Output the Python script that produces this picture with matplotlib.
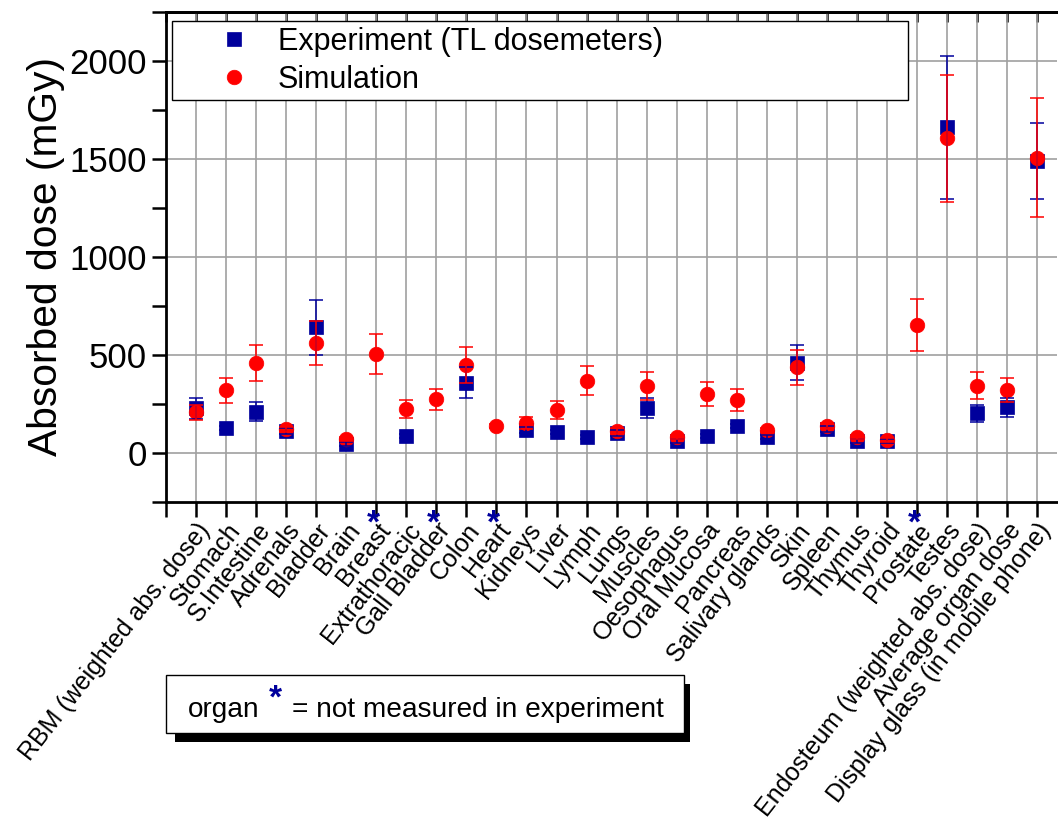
import numpy as np
import matplotlib
matplotlib.use("Agg")
import matplotlib.pyplot as plt
from matplotlib.patches import Rectangle

plt.rcParams['font.family'] = ['Liberation Sans', 'DejaVu Sans']

categories = ["RBM (weighted abs. dose)", "Stomach", "S.Intestine", "Adrenals", "Bladder",
              "Brain", "Breast", "Extrathoracic", "Gall Bladder", "Colon", "Heart",
              "Kidneys", "Liver", "Lymph", "Lungs", "Muscles", "Oesophagus",
              "Oral Mucosa", "Pancreas", "Salivary glands", "Skin", "Spleen", "Thymus",
              "Thyroid", "Prostate", "Testes", "Endosteum (weighted abs. dose)",
              "Average organ dose", "Display glass (in mobile phone)"]
not_measured = ["Breast", "Gall Bladder", "Heart", "Prostate"]

exp_vals = [228, 129, 211, 112, 641, 44, np.nan, 87, np.nan, 359, np.nan, 117, 109, 80,
            104, 231, 63, 87, 138, 83, 460, 121, 63, 63, np.nan, 1661, 202, 233, 1491]
exp_err = [55, 10, 47, 15, 140, 10, np.nan, 10, np.nan, 79, np.nan, 15, 10, 10,
           15, 50, 10, 10, 10, 10, 90, 15, 10, 10, np.nan, 367, 42, 48, 195]
sim_vals = [208, 321, 458, 121, 560, 71, 505, 223, 274, 449, 138, 155, 219, 369,
            112, 342, 83, 301, 270, 117, 437, 138, 83, 65, 653, 1605, 344, 321, 1507]
sim_err = [38, 64, 92, 12, 112, 10, 101, 45, 55, 90, 10, 31, 44, 74,
           15, 70, 10, 62, 55, 12, 88, 14, 10, 10, 132, 322, 69, 63, 303]

blue = '#00009c'
red = '#ff0000'

W, H = 1058, 821
fig = plt.figure(figsize=(W / 100, H / 100), dpi=100)
ax = fig.add_axes([166 / W, 1 - 502 / H, (1057 - 166) / W, (502 - 12) / H])

x = np.arange(len(categories))

ax.plot(x, exp_vals, 's', color=blue, ms=10, mew=0.5, zorder=3,
        label='Experiment (TL dosemeters)')
ax.plot(x, sim_vals, 'o', color=red, ms=10.5, mew=0.5, zorder=4, label='Simulation')
ax.errorbar(x, exp_vals, yerr=exp_err, fmt='none', ecolor=blue, elinewidth=1.1,
            capsize=4.7, capthick=1.1, zorder=5)
ax.errorbar(x, sim_vals, yerr=sim_err, fmt='none', ecolor=red, elinewidth=1.1,
            capsize=4.7, capthick=1.1, zorder=5)

ax.set_xlim(-1, 28.66)
ax.set_ylim(-250, 2250)
ax.set_yticks([0, 500, 1000, 1500, 2000])
ax.set_yticks([-250, 250, 750, 1250, 1750, 2250], minor=True)
ax.set_xticks(np.arange(-1, len(categories)))
ax.set_xticklabels([''] + categories, rotation=52, ha='right', va='top',
                   rotation_mode='anchor', fontsize=18)
ax.tick_params(axis='y', which='both', direction='out', length=10, width=1.8,
               labelsize=25, pad=4)
ax.tick_params(axis='x', which='major', direction='out', length=11, width=1.8,
               pad=1, top=False)
ax.grid(True, which='major', color='#a0a0a0', lw=1.2, zorder=0)
ax.set_axisbelow(True)
for s in ['left', 'bottom', 'top']:
    ax.spines[s].set_linewidth(2)
ax.spines['right'].set_visible(False)

# top axis: inward ticks, no labels
sec = ax.secondary_xaxis('top')
sec.set_xticks(np.arange(-1, len(categories)))
sec.tick_params(axis='x', direction='in', length=7, width=1.8, labeltop=False)
sec.spines['top'].set_linewidth(2)

ax.set_ylabel('Absorbed dose (mGy)', fontsize=29.3, labelpad=3)

# stars for not measured organs
for name in not_measured:
    i = categories.index(name)
    ax.annotate('*', xy=(i, 0), xycoords=('data', 'axes fraction'),
                xytext=(-2, -5), textcoords='offset points', ha='center', va='top',
                color=blue, fontsize=24, fontweight='bold')

leg = ax.legend(loc='upper left', bbox_to_anchor=(0.0067, 0.819, 0.826, 0.162),
                mode='expand', borderaxespad=0, fontsize=22, frameon=True,
                fancybox=False, edgecolor='black', framealpha=1, borderpad=0.17,
                labelspacing=0.28, handlelength=3.74, handletextpad=-0.45,
                numpoints=1)
leg.get_frame().set_linewidth(1.0)

# note box with shadow
fig.patches.append(Rectangle((175 / W, 1 - 742 / H), (690 - 175) / W, (742 - 684) / H,
                             transform=fig.transFigure, facecolor='black',
                             edgecolor='none', zorder=1))
fig.patches.append(Rectangle((166 / W, 1 - 733 / H), (684 - 166) / W, (733 - 675) / H,
                             transform=fig.transFigure, facecolor='white',
                             edgecolor='black', lw=1.0, zorder=2))
fig.text(188 / W, 1 - 717 / H, 'organ', fontsize=20.2, ha='left', va='baseline', zorder=3)
fig.text(275 / W, 1 - 684 / H, '*', fontsize=24, ha='center', va='top', color=blue,
         fontweight='bold', zorder=3)
fig.text(292 / W, 1 - 717 / H, '= not measured in experiment', fontsize=20.2,
         ha='left', va='baseline', zorder=3)

fig.savefig('out.png', dpi=100)
